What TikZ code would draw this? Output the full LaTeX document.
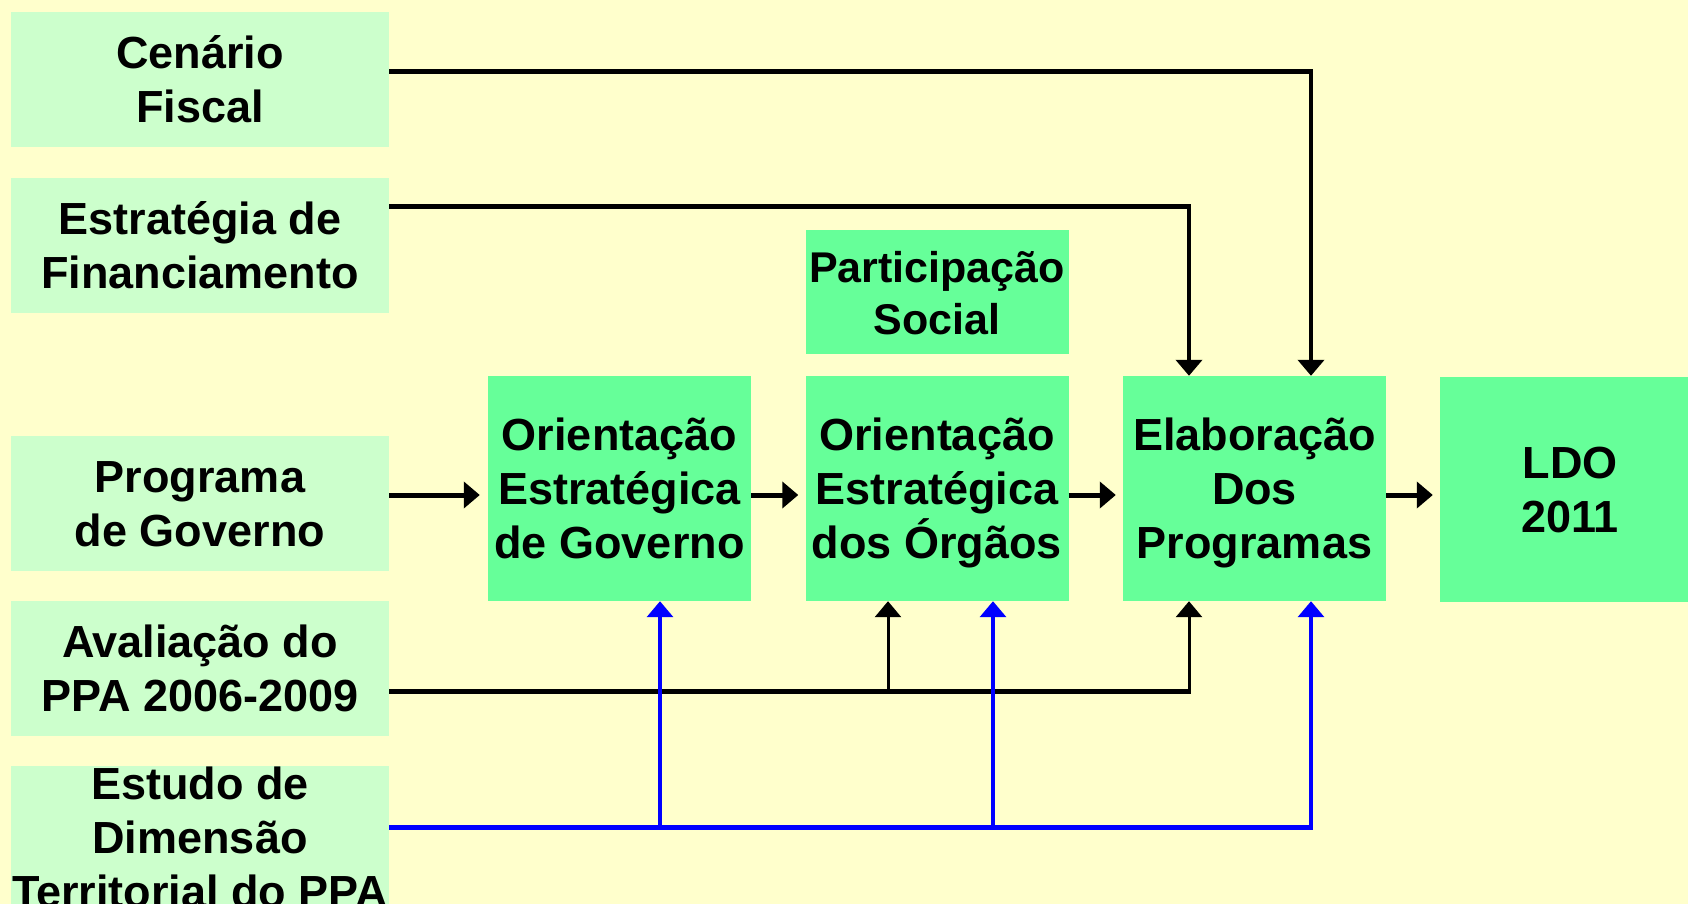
\documentclass[tikz,border=0pt]{standalone}
\usepackage{fontspec}
\setmainfont{Liberation Sans}
\usetikzlibrary{arrows.meta}
\definecolor{bgyellow}{HTML}{FFFFCC}
\definecolor{lightbox}{HTML}{CCFFCC}
\definecolor{mainbox}{HTML}{66FF99}
\definecolor{linkblue}{HTML}{0000FF}
\newcommand{\topstrut}{\rule{0pt}{42pt}}
\newcommand{\botstrut}{\rule[-9.6pt]{0pt}{9.6pt}}
\tikzset{
  txt/.style={font=\fontsize{45}{54}\selectfont\bfseries, align=center, inner sep=0pt},
  srcbox/.style={txt, fill=lightbox, minimum width=378pt, minimum height=135pt},
  procbox/.style={txt, fill=mainbox, minimum width=263pt, minimum height=225pt},
  tip/.style={-{Triangle[width=26pt,length=16pt]}},
  heavy/.style={line width=5pt},
  medium/.style={line width=4pt},
  light/.style={line width=3pt},
  bluev/.style={line width=3.5pt, linkblue},
}
\begin{document}
\begin{tikzpicture}[x=1pt,y=-1pt]
\fill[bgyellow] (0,0) rectangle (1688,904);
\useasboundingbox (0,0) rectangle (1688,904);
\clip (0,0) rectangle (1688,904);

% source boxes
\node[srcbox] (cen) at (200,79.5) {\topstrut Cenário\\Fiscal\botstrut};
\node[srcbox] (est) at (200,245.5) {\topstrut Estratégia de\\Financiamento\botstrut};
\node[srcbox] (prog) at (200,503) {\topstrut Programa\\de Governo\botstrut};
\node[srcbox] (aval) at (200,668.5) {\topstrut Avaliação do\\PPA 2006-2009\botstrut};
\fill[lightbox] (11,766) rectangle (389,910);
\node[txt, minimum width=378pt] (estudo) at (200,837) {\topstrut Estudo de\\Dimensão\\Territorial do PPA\botstrut};

% process boxes
\node[procbox] (gov) at (619.5,488.5) {\topstrut Orientação\\Estratégica\\de Governo\botstrut};
\node[procbox] (org) at (937,488.5) {\topstrut Orientação\\Estratégica\\dos Órgãos\botstrut};
\node[procbox] (elab) at (1254.5,488.5) {\topstrut Elaboração\\Dos\\Programas\botstrut};
\node[procbox, minimum width=260pt] (ldo) at (1570,489.5) {\topstrut LDO\\2011\botstrut};
\node[procbox, minimum height=124pt, font=\fontsize{43}{52}\selectfont\bfseries] (part) at (937,292) {\topstrut Participação\\Social\botstrut};

% helper coordinates for connector routes
\coordinate (yA) at (0,71.5);
\coordinate (yB) at (0,206.5);
\coordinate (yC) at (0,495);
\coordinate (yD) at (0,691.5);
\coordinate (yE) at (0,827.5);
\coordinate (xR) at (1311,0);
\coordinate (xL) at (1189,0);
\coordinate (xO) at (888,0);
\coordinate (xG) at (660,0);
\coordinate (xOb) at (993,0);

% top inputs
\draw[heavy] (cen.east |- yA) -- ([xshift=2pt]xR |- yA);
\draw[medium, tip] (xR |- yA) -- (elab.north -| xR);
\draw[heavy] (est.east |- yB) -- ([xshift=2pt]xL |- yB);
\draw[medium, tip] (xL |- yB) -- (elab.north -| xL);

% main chain
\draw[heavy, tip, shorten >=8pt] (prog.east |- yC) -- (gov.west |- yC);
\draw[heavy, tip, shorten >=7pt] (gov.east |- yC) -- (org.west |- yC);
\draw[heavy, tip, shorten >=7pt] (org.east |- yC) -- (elab.west |- yC);
\draw[heavy, tip, shorten >=7pt] (elab.east |- yC) -- (ldo.west |- yC);

% evaluation
\draw[heavy] (aval.east |- yD) -- ([xshift=1.5pt]xL |- yD);
\draw[light, tip] (xO |- yD) -- (org.south -| xO);
\draw[light, tip] (xL |- yD) -- (elab.south -| xL);

% territorial study
\draw[heavy, linkblue] (estudo.east |- yE) -- ([xshift=2pt]xR |- yE);
\draw[bluev, tip] (xG |- yE) -- (gov.south -| xG);
\draw[bluev, tip] (xOb |- yE) -- (org.south -| xOb);
\draw[bluev, tip] (xR |- yE) -- (elab.south -| xR);
\end{tikzpicture}
\end{document}
